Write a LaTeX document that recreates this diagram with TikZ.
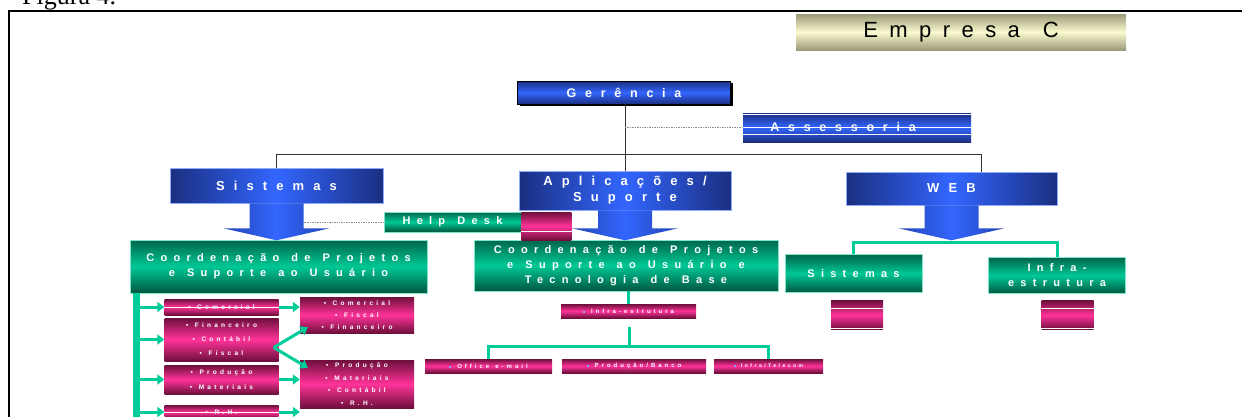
\documentclass[tikz,border=0pt]{standalone}
\usepackage{fontspec}
\setmainfont[WordSpace=1.3]{Liberation Sans}
\newfontfamily\serifschrift{Liberation Serif}
\usepackage{tikz}
\usetikzlibrary{calc,arrows.meta,shadows}

\definecolor{blaudunkel}{HTML}{1A2F80}
\definecolor{blauhell}{HTML}{3366FF}
\definecolor{gruendunkel}{HTML}{00664A}
\definecolor{gruenhell}{HTML}{00C896}
\definecolor{gruenstrich}{HTML}{00CC99}
\definecolor{rosadunkel}{HTML}{6E0F3C}
\definecolor{rosahell}{HTML}{FF3399}
\definecolor{oliv}{HTML}{9C9A78}
\definecolor{creme}{HTML}{FAFAD0}

\newcommand{\sperr}[1]{\addfontfeature{LetterSpace=#1}}
\newcommand{\quadrat}{\textcolor{blauhell!60!white}{\rule[0.6pt]{2pt}{2pt}}}

\tikzset{
  kasten/.style={inner sep=0pt, align=center, text=white},
  blaukopf/.style={kasten, left color=blaudunkel, right color=blaudunkel, middle color=blauhell,
    draw=blauhell!55!white, line width=0.6pt, font=\fontsize{13}{16}\selectfont\bfseries\sperr{70}},
  blauband/.style={kasten, top color=blaudunkel, bottom color=blaudunkel, middle color=blauhell,
    font=\fontsize{12.5}{14}\selectfont\bfseries\sperr{70}},
  gruenkasten/.style={kasten, top color=gruendunkel, bottom color=gruendunkel!85!black, middle color=gruenhell,
    draw=gruenhell!50!white, line width=0.5pt, font=\fontsize{11}{15}\selectfont\bfseries\sperr{57}},
  rosakasten/.style={kasten, top color=rosadunkel, bottom color=rosadunkel, middle color=rosahell,
    font=\fontsize{6.5}{12.5}\selectfont\bfseries\sperr{50}},
  linie/.style={draw=black!80, line width=0.8pt},
  punktlinie/.style={draw=black!45, densely dotted, line width=0.7pt},
  gruenlinie/.style={draw=gruenstrich, line width=3pt},
  gruenpfeil/.style={gruenlinie, -{Triangle[length=7pt,width=10pt]}},
}

\begin{document}
\begin{tikzpicture}[x=1pt,y=-1pt]
  % Rahmen und Titel
  \useasboundingbox (0,0) rectangle (1242,416);
  \draw[line width=2pt] (9,11) rectangle (1270,440);
  \node[anchor=base west, inner sep=0pt, font=\serifschrift\fontsize{26}{26}\selectfont] (fig) at (22,4) {Figura 4.};
  \node[minimum width=330, minimum height=36, top color=oliv, bottom color=oliv, middle color=creme,
    font=\fontsize{22}{22}\selectfont\sperr{52}] (empresa) at (961,32) {Empresa C};

  % Leitung
  \node[blauband, draw=black, line width=0.8pt, minimum width=213, minimum height=23,
    drop shadow={shadow xshift=2pt, shadow yshift=-2pt, fill=black, opacity=1}] (ger) at (624,92.5) {Gerência};
  \node[blauband, minimum width=228, minimum height=29] (ass) at (857,127.5) {Assessoria\hspace*{28pt}};
  \foreach \s in {-13,0,6.5}
    \draw[white, line width=0.6pt] ([yshift=-\s pt]ass.west) -- ([yshift=-\s pt]ass.east);

  % Bereiche
  \node[blaukopf, minimum width=213, minimum height=35] (sis) at (276.5,185.5) {Sistemas};
  \node[blaukopf, minimum width=212, minimum height=39] (apl) at (625,190.5) {Aplicações/\\Suporte};
  \node[blaukopf, minimum width=211, minimum height=33] (web) at (951.5,188.5) {WEB};

  \draw[linie] (sis.north) -- ++(0,-13) -| ($(web.north)+(30,0)$);
  \draw[linie] (ger.south -| apl.north) -- (apl.north);
  \draw[punktlinie] (ass.west) -- (ass.west -| apl.north);

  % Koordination
  \node[gruenkasten, minimum width=297, minimum height=53] (koordL) at (278.5,266.5) {Coordenação de Projetos\\e Suporte ao Usuário};
  \node[gruenkasten, minimum width=304, minimum height=51] (koordC) at (626,265.5) {Coordenação de Projetos\\e Suporte ao Usuário e\\Tecnologia de Base};
  \node[gruenkasten, minimum width=137, minimum height=38] (websis) at (853.5,273.5) {Sistemas};
  \node[gruenkasten, minimum width=137, minimum height=36] (webinfra) at (1057,275.5) {Infra-\\estrutura};
  \draw[gruenlinie] (websis.north) -- ++(0,-12) -| (webinfra.north);

  % Help Desk
  \node[gruenkasten, minimum width=137, minimum height=20] (helpdesk) at (452.5,222) {Help Desk};
  \node[rosakasten, minimum width=50, minimum height=28, anchor=west] (hdrosa) at ([yshift=-4pt]helpdesk.east) {};
  \draw[white, line width=0.6pt] ([yshift=-5pt]hdrosa.west) -- ([yshift=-5pt]hdrosa.east);

  % Blockpfeile
  \foreach \n/\l in {sis/25,apl/18,web/23}
    \path[left color=blaudunkel!60!blauhell, right color=blaudunkel!60!blauhell, middle color=blauhell]
      (\n.south) ++(-27,0) -- ++(54,0) -- ++(0,\l) -- ++(26,0) -- ++(-53,12) -- ++(-53,-12) -- ++(26,0) -- cycle;
  \coordinate (sisstiel) at ($(sis.south)+(27,0)$);
  \draw[punktlinie] (helpdesk.west) -- (helpdesk.west -| sisstiel);

  % WEB Unterkaesten
  \node[rosakasten, minimum width=52, minimum height=29] (wsrosa) at (857,315) {};
  \node[rosakasten, minimum width=52, minimum height=29] (wirosa) at (1067.5,315) {};
  \foreach \k in {wsrosa,wirosa}
    \foreach \s in {7,-13}
      \draw[white, line width=0.6pt] ([yshift=\s pt]\k.west) -- ([yshift=\s pt]\k.east);

  % Sistemas: Module
  \coordinate (balken) at (136,293);
  \coordinate (balkenende) at (136,420);
  \draw[gruenlinie, line width=7pt] (balken) -- (balkenende);

  \node[rosakasten, minimum width=114, minimum height=16] (lk1) at (221.5,307) {• Comercial};
  \node[rosakasten, minimum width=114, minimum height=43, font=\fontsize{6.5}{14}\selectfont\bfseries\sperr{50}] (lk2) at (221.5,339.5) {• Financeiro\\• Contábil\\• Fiscal};
  \node[rosakasten, minimum width=114, minimum height=29, font=\fontsize{6.5}{15}\selectfont\bfseries\sperr{50}] (lk3) at (221.5,379.5) {• Produção\\• Materiais};
  \node[rosakasten, minimum width=114, minimum height=14] (lk4) at (221.5,412) {• R.H.};
  \node[rosakasten, minimum width=114, minimum height=36, font=\fontsize{6.5}{12}\selectfont\bfseries\sperr{50}] (rk1) at (357,315) {• Comercial\\• Fiscal\\• Financeiro};
  \node[rosakasten, minimum width=114, minimum height=48] (rk2) at (357,384) {• Produção\\• Materiais\\• Contábil\\• R.H.};
  \foreach \k in {lk1,lk4}
    \draw[white, line width=0.5pt] (\k.west) -- (\k.east);

  \foreach \k in {lk1,lk2,lk3,lk4}
    \draw[gruenpfeil] (balken |- \k.west) -- (\k.west);
  \draw[gruenpfeil] (lk1.east) -- (lk1.east -| rk1.west);
  \draw[gruenpfeil] (lk3.east) -- (lk3.east -| rk2.west);
  \draw[gruenpfeil] (lk4.east) -- (lk4.east -| rk2.west);
  \draw[gruenpfeil] ([xshift=-5pt,yshift=-8pt]lk2.east) -- ([xshift=8pt,yshift=6pt]rk1.south west);
  \draw[gruenpfeil] ([xshift=-5pt,yshift=-8pt]lk2.east) -- ([xshift=8pt,yshift=-8pt]rk2.north west);

  % Infra-estrutura
  \node[rosakasten, minimum width=135, minimum height=14, font=\fontsize{6}{8}\selectfont\bfseries\sperr{50}] (infraC) at (628.5,311) {\quadrat\ Infra-estrutura};
  \node[rosakasten, minimum width=127, minimum height=14, font=\fontsize{6}{8}\selectfont\bfseries\sperr{50}] (office) at (488.5,366) {\quadrat\ Office e-mail};
  \node[rosakasten, minimum width=144, minimum height=14, font=\fontsize{6}{8}\selectfont\bfseries\sperr{50}] (banco) at (634,366) {\quadrat\ Produção/Banco};
  \node[rosakasten, minimum width=109, minimum height=14, font=\fontsize{5}{7}\selectfont\bfseries\sperr{50}] (tele) at (768.5,366) {\quadrat\ Infra/Telecom};

  \draw[gruenlinie] (infraC.north |- koordC.south) -- (infraC.north);
  \coordinate (verteiler) at ($(infraC.south)+(1,28)$);
  \draw[gruenlinie] ($(infraC.south)+(1,9)$) -- (verteiler);
  \draw[gruenlinie] (office.north) |- (verteiler) -| (tele.north);
\end{tikzpicture}
\end{document}
